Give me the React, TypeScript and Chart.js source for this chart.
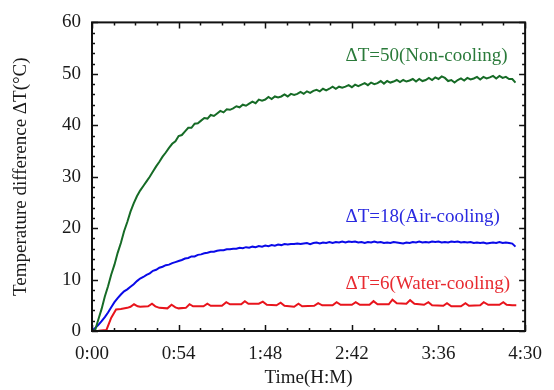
import React, { useEffect, useRef } from "react";
import { Chart, registerables } from "chart.js";

Chart.register(...registerables);

// Shared sampling times (minutes) for the non-cooling and air-cooling series
const timeMin = [
  0, 2, 4, 6, 8, 10, 12, 14, 16, 18, 20, 22, 24, 26, 28, 30, 32, 34, 36, 38,
  40, 42, 44, 46, 48, 50, 52, 54, 56, 58, 60, 62, 64, 66, 68, 70, 72, 74, 76, 78,
  80, 82, 84, 86, 88, 90, 92, 94, 96, 98, 100, 102, 104, 106, 108, 110, 112, 114, 116, 118,
  120, 122, 124, 126, 128, 130, 132, 134, 136, 138, 140, 142, 144, 146, 148, 150, 152, 154, 156, 158,
  160, 162, 164, 166, 168, 170, 172, 174, 176, 178, 180, 182, 184, 186, 188, 190, 192, 194, 196, 198,
  200, 202, 204, 206, 208, 210, 212, 214, 216, 218, 220, 222, 224, 226, 228, 230, 232, 234, 236, 238,
  240, 242, 244, 246, 248, 250, 252, 254, 256, 258, 260, 262, 264,
];

const nonCooling = [
  0, 0.2, 2.3, 4.3, 6.7, 8.7, 11.0, 12.9, 15.2, 17.1, 19.4, 21.2, 23.2, 24.8, 26.2, 27.3, 28.2, 29.1, 30.0, 31.0,
  32.0, 32.9, 33.9, 34.7, 35.6, 36.4, 36.9, 37.9, 38.1, 38.8, 39.5, 39.5, 40.3, 40.4, 40.9, 41.4, 41.3, 42.0, 41.8, 42.3,
  42.8, 42.5, 43.1, 43.0, 43.3, 43.7, 43.5, 44.0, 43.8, 44.2, 44.6, 44.3, 45.0, 44.8, 45.0, 45.5, 45.1, 45.6, 45.4, 45.6,
  46.0, 45.6, 46.1, 45.9, 46.1, 46.5, 46.1, 46.6, 46.3, 46.7, 46.9, 46.6, 47.1, 46.8, 47.1, 47.5, 47.1, 47.5, 47.3, 47.5,
  47.8, 47.4, 47.9, 47.6, 47.9, 48.2, 47.8, 48.3, 48.0, 48.2, 48.6, 48.1, 48.6, 48.3, 48.5, 48.8, 48.4, 48.8, 48.5, 48.7,
  49.0, 48.5, 49.0, 48.6, 48.8, 49.2, 48.8, 49.3, 49.0, 49.5, 49.2, 48.6, 48.8, 48.3, 48.8, 49.1, 48.7, 49.2, 48.9, 49.1,
  49.4, 48.9, 49.4, 49.1, 49.3, 49.6, 49.1, 49.6, 49.2, 49.4, 49.0, 49.0, 48.3,
];

const airCooling = [
  0, 0.6, 1.2, 1.9, 2.7, 3.6, 4.6, 5.6, 6.4, 7.1, 7.7, 8.1, 8.6, 9.1, 9.7, 10.2, 10.5, 10.9, 11.2, 11.7,
  11.9, 12.3, 12.5, 12.8, 12.9, 13.2, 13.4, 13.6, 13.8, 14.1, 14.2, 14.5, 14.5, 14.8, 14.9, 15.1, 15.2, 15.4, 15.4, 15.6,
  15.7, 15.7, 15.9, 15.9, 16.0, 16.0, 16.2, 16.1, 16.3, 16.2, 16.4, 16.3, 16.5, 16.4, 16.6, 16.5, 16.7, 16.6, 16.8, 16.7,
  16.9, 16.8, 16.9, 16.9, 17.0, 16.9, 17.0, 17.1, 16.9, 17.1, 17.2, 17.0, 17.2, 17.1, 17.3, 17.1, 17.3, 17.2, 17.4, 17.2,
  17.4, 17.3, 17.4, 17.2, 17.3, 17.1, 17.3, 17.2, 17.4, 17.2, 17.3, 17.1, 17.2, 17.1, 17.3, 17.2, 17.1, 17.0, 17.2, 17.1,
  17.3, 17.2, 17.4, 17.2, 17.3, 17.2, 17.4, 17.3, 17.4, 17.2, 17.3, 17.2, 17.4, 17.3, 17.4, 17.2, 17.3, 17.2, 17.3, 17.1,
  17.2, 17.1, 17.2, 17.0, 17.1, 17.2, 17.1, 17.3, 17.1, 17.2, 17.1, 17.0, 16.4,
];

// Water-cooling series has its own sampling times (periodic pump bumps)
const waterTime = [
  0, 4, 9, 12, 15, 18, 22, 24, 26.2, 28.5, 30, 35, 37.4, 39.5, 42, 47, 49.6, 52, 54, 58.5,
  60.8, 63, 69.5, 71.9, 74, 81, 83.7, 86, 93, 95.3, 97.5, 104, 106.5, 109, 115, 117.6, 120, 126, 128.7, 131,
  138.5, 141, 143.5, 150, 152.5, 155, 162, 164.4, 167, 173, 175.5, 178, 185, 187.3, 190, 196, 198.3, 201, 207, 209.7,
  212, 219, 221.3, 224, 230, 232.8, 235, 242, 244.2, 247, 254, 256.4, 258.5, 262, 264.5,
];

const waterCooling = [
  0, 0.05, 0.2, 2.6, 4.2, 4.3, 4.5, 4.7, 5.2, 4.8, 4.7, 4.8, 5.3, 4.8, 4.5, 4.4, 5.1, 4.6, 4.4, 4.5,
  5.2, 4.8, 4.8, 5.3, 4.9, 4.9, 5.6, 5.2, 5.2, 5.8, 5.3, 5.3, 5.7, 5.1, 5.0, 5.5, 4.9, 4.7, 5.3, 4.8,
  4.9, 5.4, 5.0, 5.0, 5.6, 5.1, 5.1, 5.6, 5.1, 5.1, 5.8, 5.2, 5.2, 6.1, 5.4, 5.3, 6.0, 5.3, 5.1, 5.6,
  5.0, 4.9, 5.4, 4.8, 4.8, 5.4, 4.9, 5.0, 5.6, 5.1, 5.1, 5.6, 5.1, 5.0, 5.0,
];

const xTicks = [0, 54, 108, 162, 216, 270];
const yTicks = [0, 10, 20, 30, 40, 50, 60];

const labelTexts = ["\u0394T=50(Non-cooling)", "\u0394T=18(Air-cooling)", "\u0394T=6(Water-cooling)"];
const labelAnchorTime = [158, 158, 158];
const labelAnchorValue = [52.5, 21.1, 8.2];

const GREEN = "#166b26";
const BLUE = "#0a0ae8";
const RED = "#e8141c";
const labelColors = ["#2a7a3a", "#2a2ae0", "#e82a30"];

const FONT = '"Liberation Serif", "Times New Roman", serif';

const frameTicksPlugin = {
  id: "frameTicks",
  afterDatasetsDraw(chart: any) {
    const { ctx, chartArea, scales } = chart;
    const { left, right, top, bottom } = chartArea;
    const xs = scales.x;
    const ys = scales.y;
    ctx.save();
    ctx.strokeStyle = "#111";
    ctx.lineWidth = 1.5;
    ctx.beginPath();
    const xMinor = (xTicks[1] - xTicks[0]) / 4;
    for (let v = xTicks[0]; v <= xTicks[xTicks.length - 1] + 0.01; v += xMinor) {
      const major = xTicks.some((t) => Math.abs(t - v) < 0.01);
      const len = major ? 6 : 3;
      const px = Math.round(xs.getPixelForValue(v)) + 0.5;
      ctx.moveTo(px, bottom);
      ctx.lineTo(px, bottom - len);
      ctx.moveTo(px, top);
      ctx.lineTo(px, top + len);
    }
    const yMinor = (yTicks[1] - yTicks[0]) / 5;
    for (let v = yTicks[0]; v <= yTicks[yTicks.length - 1] + 0.01; v += yMinor) {
      const major = yTicks.some((t) => Math.abs(t - v) < 0.01);
      const len = major ? 6 : 3;
      const py = Math.round(ys.getPixelForValue(v)) + 0.5;
      ctx.moveTo(left, py);
      ctx.lineTo(left + len, py);
      ctx.moveTo(right, py);
      ctx.lineTo(right - len, py);
    }
    ctx.stroke();
    ctx.lineWidth = 2;
    ctx.strokeRect(left, top, right - left, bottom - top);
    ctx.restore();

    // series annotations
    ctx.save();
    ctx.font = `19px ${FONT}`;
    ctx.textAlign = "left";
    ctx.textBaseline = "alphabetic";
    labelTexts.forEach((txt, i) => {
      ctx.fillStyle = labelColors[i];
      ctx.fillText(txt, xs.getPixelForValue(labelAnchorTime[i]), ys.getPixelForValue(labelAnchorValue[i]));
    });
    ctx.restore();
  },
};

function fmtTime(v: number) {
  const h = Math.floor(v / 60);
  const m = Math.round(v - h * 60);
  return `${h}:${m < 10 ? "0" + m : m}`;
}

export default function App() {
  const canvasRef = useRef<HTMLCanvasElement | null>(null);

  useEffect(() => {
    document.body.style.margin = "0";
    const canvas = canvasRef.current;
    if (!canvas) return;
    const chart = new Chart(canvas, {
      type: "line",
      data: {
        datasets: [
          {
            label: "Non-cooling",
            data: timeMin.map((t, i) => ({ x: t, y: nonCooling[i] })),
            borderColor: GREEN,
            borderWidth: 2,
            pointRadius: 0,
            tension: 0,
          },
          {
            label: "Air-cooling",
            data: timeMin.map((t, i) => ({ x: t, y: airCooling[i] })),
            borderColor: BLUE,
            borderWidth: 2,
            pointRadius: 0,
            tension: 0,
          },
          {
            label: "Water-cooling",
            data: waterTime.map((t, i) => ({ x: t, y: waterCooling[i] })),
            borderColor: RED,
            borderWidth: 2,
            pointRadius: 0,
            tension: 0,
          },
        ],
      },
      options: {
        animation: false,
        responsive: false,
        devicePixelRatio: 1,
        layout: { padding: { top: 18, right: 19, left: 0, bottom: 0 } },
        plugins: { legend: { display: false }, tooltip: { enabled: false } },
        scales: {
          x: {
            type: "linear",
            min: 0,
            max: 270,
            afterFit: (s: any) => {
              s.height = 59;
            },
            afterBuildTicks: (s: any) => {
              s.ticks = xTicks.map((v) => ({ value: v }));
            },
            grid: { display: false, drawTicks: false },
            border: { display: false },
            ticks: {
              padding: 12,
              color: "#1a1a1a",
              font: { family: FONT, size: 19 },
              maxRotation: 0,
              autoSkip: false,
              callback: (v: any) => fmtTime(Number(v)),
            },
            title: {
              display: true,
              text: "Time(H:M)",
              color: "#1a1a1a",
              font: { family: FONT, size: 19 },
              padding: { top: 0, bottom: 1 },
            },
          },
          y: {
            type: "linear",
            min: 0,
            max: 60,
            afterFit: (s: any) => {
              s.width = 92;
            },
            afterBuildTicks: (s: any) => {
              s.ticks = yTicks.map((v) => ({ value: v }));
            },
            grid: { display: false, drawTicks: false },
            border: { display: false },
            ticks: {
              padding: 11,
              color: "#1a1a1a",
              font: { family: FONT, size: 19 },
            },
            title: {
              display: true,
              text: "Temperature difference \u0394T(\u00B0C)",
              color: "#1a1a1a",
              font: { family: FONT, size: 19 },
              padding: { top: 10, bottom: 0 },
            },
          },
        },
      },
      plugins: [frameTicksPlugin],
    });
    return () => chart.destroy();
  }, []);

  return (
    <div style={{ position: "absolute", left: 0, top: 0, width: 554, height: 390 }}>
      <canvas ref={canvasRef} width={554} height={390} style={{ width: 554, height: 390 }} />
    </div>
  );
}
